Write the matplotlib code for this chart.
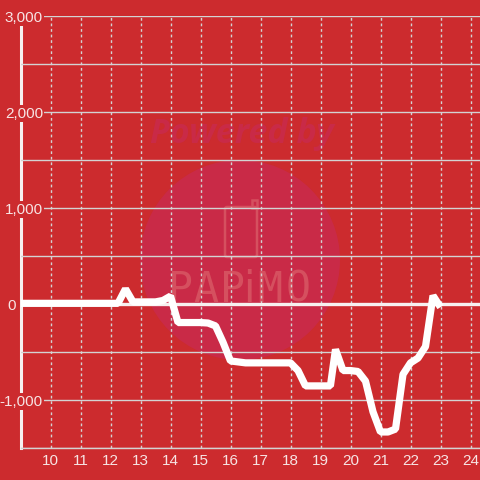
import matplotlib
matplotlib.use("Agg")
import matplotlib.pyplot as plt
from matplotlib.patches import Circle, FancyBboxPatch, Rectangle
from matplotlib.ticker import FuncFormatter, MultipleLocator
from matplotlib.transforms import Affine2D

hours = [9, 9.5, 10, 10.5, 11, 11.5, 12, 12.25, 12.5, 12.75, 13, 13.5, 13.75, 14, 14.25, 14.5, 15,
         15.25, 15.5, 15.75, 16, 16.5, 17, 17.5, 18, 18.25, 18.5, 19, 19.33, 19.5, 19.75, 20,
         20.25, 20.5, 20.75, 21, 21.25, 21.5, 21.75, 22, 22.25, 22.5, 22.75, 23]
values = [10, 10, 10, 10, 10, 10, 10, 10, 160, 25, 25, 25, 40, 85, -190, -190, -190,
          -195, -225, -395, -590, -610, -610, -610, -610, -690, -850, -850, -850, -470, -690, -690,
          -700, -800, -1120, -1330, -1330, -1300, -730, -610, -560, -440, 90, -30]

x_ticks = list(range(10, 25))
logo_letters = ["P", "A", "P", "i", "M", "O"]

BG = "#cc2b2e"
GRID = "#d3d3d3"
LABEL = "#f7e4e4"
MARK = "#c92a47"
LOGO = "#d5505f"

plt.rcParams["font.family"] = ["Liberation Sans", "DejaVu Sans"]


def thousands(value, _pos=None):
    return f"{value:,.0f}"


fig = plt.figure(figsize=(4.8, 4.8), dpi=100, facecolor=BG)
ax = fig.add_axes([20.5 / 480, 31.7 / 480, 459.5 / 480, 432 / 480], facecolor=BG)
ax.set_xlim(9, 9 + 459.5 / 30)
ax.set_ylim(-1500, 3000)
px = Affine2D().scale(1, -1).translate(0, 480)

# watermark sits under everything else
ax.add_patch(Circle((240, 260), 100, transform=px, color=MARK, lw=0, zorder=0.1))
ax.text(242, 134, "Powered by", transform=px, ha="center", va="center", fontsize=24.5,
        fontweight="bold", fontstyle="italic", family="Open Sans", color=MARK, zorder=0.1)
ax.add_patch(FancyBboxPatch((225, 207), 32, 50, boxstyle="round,pad=0,rounding_size=2", transform=px,
                            fc="none", ec=LOGO, lw=1.8, zorder=0.2))
ax.add_patch(Rectangle((252, 200), 5, 8, transform=px, fc="none", ec=LOGO, lw=1.8, zorder=0.2))
for letter, x_px in zip(logo_letters, [181, 206, 232, 249, 270, 298]):
    family = "DejaVu Sans" if letter == "i" else "DejaVu Sans Mono"
    ax.text(x_px, 290, letter, transform=px, ha="center", va="center", fontsize=30,
            family=family, color=LOGO, zorder=0.2)

ax.set_axisbelow(True)
ax.set_xticks(x_ticks)
ax.yaxis.set_major_locator(MultipleLocator(1000))
ax.yaxis.set_minor_locator(MultipleLocator(500))
ax.yaxis.set_major_formatter(FuncFormatter(thousands))
ax.grid(True, axis="y", which="both", color=GRID, lw=1)
ax.grid(True, axis="x", color=GRID, lw=1, linestyle=(0, (2, 2)))
ax.tick_params(axis="x", length=0, pad=4, labelsize=11, labelcolor=LABEL)
ax.tick_params(axis="y", which="both", length=0, pad=-16.2, labelsize=11, labelcolor=LABEL)
for tick in ax.yaxis.get_major_ticks():
    tick.label1.set_bbox(dict(facecolor=BG, edgecolor="none", pad=1))

fig.canvas.draw()
for tick in ax.yaxis.get_major_ticks():
    if tick.get_loc() == 0:
        # the zero label sits left of the axis, not over it
        tick.label1.set_x(-27 / 459.5)
        tick.label1.set_bbox(None)

for side in ("top", "right"):
    ax.spines[side].set_visible(False)
ax.spines["bottom"].set_color(GRID)
ax.spines["bottom"].set_linewidth(1)
ax.spines["left"].set_color("#f7f0f0")
ax.spines["left"].set_linewidth(2.2)
ax.spines["left"].set_bounds(-1500, 2915)
ax.spines["left"].set_zorder(0.4)

ax.axhline(0, color="#f7f0f0", lw=2.4, zorder=1)
ax.plot(hours, values, color="white", lw=5.2, solid_joinstyle="bevel", solid_capstyle="butt", zorder=2)

fig.savefig("out.png", dpi=100, facecolor=BG)
